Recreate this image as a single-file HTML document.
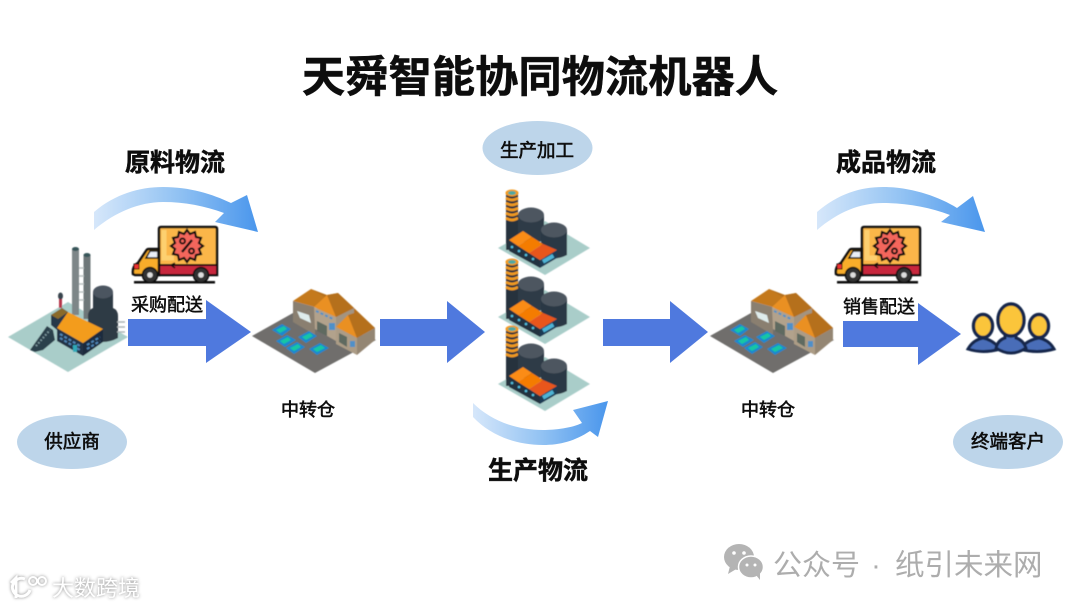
<!DOCTYPE html>
<html><head><meta charset="utf-8"><style>
html,body{margin:0;padding:0;background:#fff;width:1080px;height:608px;overflow:hidden}
svg{display:block}
text{font-family:"Liberation Sans","Noto Sans CJK SC",sans-serif}
</style></head><body>
<svg width="1080" height="608" viewBox="0 0 1080 608" xmlns="http://www.w3.org/2000/svg">
<defs>
<linearGradient id="g1" x1="0" y1="0" x2="1" y2="0"><stop offset="0" stop-color="#d6e7fa"/><stop offset="0.5" stop-color="#93c3f3"/><stop offset="1" stop-color="#4a96ec"/></linearGradient>
<filter id="b" x="-5%" y="-5%" width="110%" height="110%"><feGaussianBlur stdDeviation="0.5"/></filter>
<filter id="t" x="-5%" y="-20%" width="110%" height="140%"><feGaussianBlur stdDeviation="0.35"/></filter>
<g id="truck">
<rect x="134" y="281" width="81" height="2.500" fill="#111"/>
<path d="M159 229 Q159 227 161 227 H215 Q217 227 217 229 V275 H159 Z" fill="#fbb64a" stroke="#111" stroke-width="2.500"/>
<path d="M160 265 H216 V274 H160 Z" fill="#c8283c"/>
<path d="M160 265 H216" stroke="#111" stroke-width="2"/>
<path d="M164 230 V258 H174" stroke="#fdd06f" stroke-width="5" fill="none"/>
<path d="M133 274 Q132 266 138 263 L146 251 Q147 249 149 249 H159 V275 H135 Z" fill="#f9ad2c" stroke="#111" stroke-width="2.500"/>
<path d="M146 258 L150 251 H158 V258 Z" fill="#e9eef6" stroke="#111" stroke-width="1.600"/>
<rect x="134" y="264" width="5" height="5" fill="#e33" stroke="#111" stroke-width="1"/>
<polygon points="187,230 190,234 195,232 196,237 201,238 199,243 203,246 199,249 201,254 196,255 195,260 190,258 187,262 184,258 179,260 178,255 173,254 175,249 171,246 175,243 173,238 178,237 179,232 184,234" fill="#f4665c" stroke="#111" stroke-width="2.200"/>
<path d="M182 252 L192 240" stroke="#111" stroke-width="2.500"/>
<circle cx="182.500" cy="241" r="2.500" fill="none" stroke="#111" stroke-width="2"/>
<circle cx="191.500" cy="251" r="2.500" fill="none" stroke="#111" stroke-width="2"/>
<path d="M175 263 L171 265 L175 268" stroke="#111" stroke-width="1.500" fill="none"/>
<circle cx="150" cy="275" r="7.500" fill="#333" stroke="#111" stroke-width="1.500"/><circle cx="150" cy="275" r="2.800" fill="#ddd"/>
<circle cx="201" cy="275" r="7.500" fill="#333" stroke="#111" stroke-width="1.500"/><circle cx="201" cy="275" r="2.800" fill="#ddd"/>
</g>
<g id="wh">
<polygon points="252,336 293,313 300,313 376,340 315,373" fill="#6f6e6c"/>
<polygon points="293,301 315,307 315,335 293,322" fill="#8a7f70"/>
<polygon points="293,301 293,314 252,336 293,316" fill="#6f6e6c"/>
<polygon points="297,311 309,315 311,323 300,318" fill="#dfeceb"/>
<polygon points="311,289 327,295 338,293 354,308 375,328 357,338 315,307" fill="#b5701e"/>
<polygon points="293,301 311,289 325,297 315,307" fill="#c4791f"/>
<polygon points="314,307 336,317 336,341 315,329" fill="#b2a28c"/>
<polygon points="317,321 327,326 327,336 317,331" fill="#5f6a60"/>
<polygon points="336,317 354,308 354,330 336,341" fill="#a39480"/>
<polygon points="327,295 338,293 354,308 336,317" fill="#b5701e"/>
<polygon points="314,307 327,295 336,317" fill="#ea9024"/>
<polygon points="336,327 348,315 357,312 375,328 357,338" fill="#b5701e"/>
<polygon points="336,327 348,315 357,338" fill="#ea9024"/>
<polygon points="336,327 357,338 357,355 336,344" fill="#ac9c86"/>
<polygon points="357,338 375,328 375,340 357,355" fill="#948673"/>
<polygon points="339,333 347,337 347,347 339,342" fill="#5f6a60"/>
<rect x="350" y="341" width="5" height="6" fill="#4f90c8"/>
<rect x="329" y="323" width="6" height="7" fill="#4f90c8"/>
<path d="M316 311 L333 319" stroke="#4f90c8" stroke-width="2" stroke-dasharray="3 2"/>
<polygon points="272,330 282,324 291,329 282,336" fill="#1d87cf"/><polygon points="276,330 284,326 287,329 280,333" fill="#17c6a4"/>
<polygon points="276,341 287,335 296,340 285,347" fill="#1d87cf"/><polygon points="280,341 288,337 291,340 284,344" fill="#17c6a4"/>
<polygon points="298,337 309,331 317,336 306,343" fill="#1d87cf"/><polygon points="302,337 310,333 313,336 306,340" fill="#17c6a4"/>
<polygon points="286,348 297,342 305,347 294,354" fill="#1d87cf"/><polygon points="290,348 298,344 301,347 294,351" fill="#17c6a4"/>
<polygon points="309,349 320,343 329,348 317,355" fill="#1d87cf"/><polygon points="313,349 321,345 325,348 317,352" fill="#17c6a4"/>
</g>
<g id="plant">
<polygon points="498,248 545,221 590,248 545,275" fill="#a9cdc9"/>
<rect x="506" y="194" width="12" height="56" fill="#26303c"/>
<path d="M506 198 Q512 202 518 198 M506 203 Q512 207 518 203 M506 208 Q512 212 518 208 M506 213 Q512 217 518 213 M506 218 Q512 222 518 218" stroke="#f09a20" stroke-width="2.600" fill="none"/>
<ellipse cx="512" cy="193" rx="6.500" ry="3.500" fill="#f39a1f"/><ellipse cx="512" cy="193" rx="4" ry="2" fill="#4fa8a0"/>
<path d="M518 215 V240 Q531 246 544 240 V215 Z" fill="#2e3a47"/>
<ellipse cx="531" cy="215" rx="13" ry="7.500" fill="#4e5761"/>
<path d="M541 230 V255 Q554 262 567 255 V230 Z" fill="#2a3744"/>
<ellipse cx="554" cy="230" rx="13" ry="7.500" fill="#4e5761"/>
<polygon points="509,240 540,260 540,268 509,251" fill="#233041"/>
<polygon points="540,260 557,250 557,258 540,268" fill="#1b3a55"/>
<polygon points="509,240 523,231 532,237 518,246" fill="#fb8c12"/>
<polygon points="518,246 532,237 543,244 529,253" fill="#f47c06"/>
<polygon points="529,253 543,244 557,250 540,260" fill="#e8571a"/>
<rect x="542" y="260" width="12" height="4" fill="#4fb3d4" transform="rotate(-30 542 260)"/>
<circle cx="512" cy="247" r="1.300" fill="#55c0e0"/><circle cx="519" cy="251" r="1.300" fill="#55c0e0"/><circle cx="526" cy="255" r="1.300" fill="#55c0e0"/><circle cx="533" cy="259" r="1.300" fill="#55c0e0"/>
</g>
</defs>

<!-- curved arrows -->
<path d="M94 212 C115 194 140 187 163 187 C190 187 212 194 231 203 L247 195 L258 232 L215 222 L224 213 C205 206 185 202 163 202 C140 202 115 212 94 230 Z" fill="url(#g1)"/>
<path d="M817 212 C838 194 860 187 883 187 C910 187 938 196 957 208 L973 196 L985 232 L941 222 L950 215 C930 207 905 203 883 203 C860 203 838 212 817 230 Z" fill="url(#g1)"/>
<path d="M473 403 C490 420 515 430 543 430 C555 430 572 428 582 423 L573 410 L608 401 L598 437 L590 431 C575 441 560 445 543 445 C515 445 490 435 473 417 Z" fill="url(#g1)"/>

<!-- ellipses -->
<ellipse cx="537.500" cy="148" rx="55" ry="27" fill="#bdd5ea"/>
<ellipse cx="72" cy="442" rx="55" ry="27" fill="#bdd5ea"/>
<ellipse cx="1008" cy="442" rx="55" ry="27" fill="#bdd5ea"/>

<!-- straight arrows -->
<polygon points="128,319 206,319 206,300 251,332 206,363 206,346 128,346" fill="#4f79de"/>
<polygon points="380,319 447,319 447,301 485,332 447,363 447,346 380,346" fill="#4f79de"/>
<polygon points="603,319 670,319 670,301 708,332 670,363 670,346 603,346" fill="#4f79de"/>
<polygon points="843,321 918,321 918,303 961,334 918,365 918,347 843,347" fill="#4f79de"/>
<rect x="130" y="295" width="76" height="23" fill="#fff"/>
<rect x="842" y="297" width="76" height="23" fill="#fff"/>

<g filter="url(#t)" fill="#0a0a0a" text-anchor="middle">
<text x="540" y="92" font-size="43.300" font-weight="700" stroke="#0a0a0a" stroke-width=".5">天舜智能协同物流机器人</text>
<text x="175" y="171" font-size="25" font-weight="700" stroke="#0a0a0a" stroke-width=".5">原料物流</text>
<text x="886" y="171" font-size="25" font-weight="700" stroke="#0a0a0a" stroke-width=".5">成品物流</text>
<text x="538" y="479" font-size="25" font-weight="700" stroke="#0a0a0a" stroke-width=".5">生产物流</text>
<text x="537" y="157" font-size="18.500" stroke="#111" stroke-width=".6">生产加工</text>
<text x="72" y="448" font-size="18.500" stroke="#111" stroke-width=".6">供应商</text>
<text x="1008" y="448" font-size="18.500" stroke="#111" stroke-width=".6">终端客户</text>
<text x="308" y="416" font-size="18" stroke="#111" stroke-width=".6">中转仓</text>
<text x="768" y="416" font-size="18" stroke="#111" stroke-width=".6">中转仓</text>
<text x="167" y="311" font-size="18" stroke="#111" stroke-width=".5">采购配送</text>
<text x="879" y="313" font-size="18" stroke="#111" stroke-width=".5">销售配送</text>
</g>

<g filter="url(#b)">
<!-- supplier factory -->
<polygon points="8,337 68,302 128,337 68,372" fill="#a9cdc9"/>
<rect x="72" y="249" width="7" height="66" fill="#7d8688"/><ellipse cx="75.500" cy="249" rx="3.500" ry="2" fill="#38565a"/>
<rect x="83.500" y="255" width="7" height="64" fill="#6e7779"/><ellipse cx="87" cy="255" rx="3.500" ry="2" fill="#38565a"/>
<path d="M79 268 H84 M79 276 H84 M79 284 H84 M79 292 H84 M79 300 H84" stroke="#b9c2c2" stroke-width="1.500"/>
<path d="M88 316 Q88 310 93 308 V292 H113 V308 Q118 310 118 316 V338 Q103 346 88 338 Z" fill="#2f3a44"/>
<ellipse cx="103" cy="292" rx="10" ry="6.500" fill="#4b5560"/>
<path d="M117 322 H125 M117 327 H125 M117 332 H125" stroke="#aab4b6" stroke-width="1.500"/>
<rect x="59" y="296" width="3" height="12" fill="#b5344a"/><ellipse cx="60.500" cy="296" rx="2.500" ry="3.500" fill="#38444e"/>
<polygon points="51,315 62,308 68,312 68,325 57,330 51,325" fill="#27374a"/>
<polygon points="51,315 62,308 68,312 58,319" fill="#8a6a2a"/>
<polygon points="30,350 47,326 53,330 55,340 43,350 35,352" fill="#2c3f4b"/>
<path d="M36 346 L50 330" stroke="#7f9ba0" stroke-width="2" stroke-dasharray="1.500 2"/>
<polygon points="57,328 83,343 83,356 57,341" fill="#223145"/>
<polygon points="83,343 103,329 103,342 83,356" fill="#1c2c3e"/>
<polygon points="68,312 103,329 83,343 57,328" fill="#f39c1a"/>
<path d="M60 334 L80 346 M60 338 L80 350" stroke="#4f86b8" stroke-width="2" stroke-dasharray="3 2"/>
<path d="M87 345 L100 337 M87 349 L100 341" stroke="#4f86b8" stroke-width="2" stroke-dasharray="3 2"/>
<rect x="73" y="345" width="4" height="7" fill="#2ea9b8"/>
<use href="#wh"/>
<use href="#wh" x="458"/>
<use href="#plant"/>
<use href="#plant" y="69"/>
<use href="#plant" y="136"/>
<use href="#truck"/>
<use href="#truck" x="703"/>
<!-- customers -->
<path d="M968 349 Q973 340 983 338 Q993 340 1000 349 Q983 354 968 349 Z" fill="#4a6db8" stroke="#12284c" stroke-width="3"/>
<path d="M1020 349 Q1027 340 1039 338 Q1049 340 1054 349 Q1037 354 1020 349 Z" fill="#4a6db8" stroke="#12284c" stroke-width="3"/>
<path d="M996 348 Q998 340 1005 338 V334 H1016 V338 Q1023 340 1026 348 Q1011 358 996 348 Z" fill="#4a6db8" stroke="#12284c" stroke-width="3"/>
<ellipse cx="983" cy="326" rx="9.500" ry="11.500" fill="#fbc53a" stroke="#12284c" stroke-width="3.400"/>
<ellipse cx="1039" cy="326" rx="9.500" ry="11.500" fill="#fbc53a" stroke="#12284c" stroke-width="3.400"/>
<ellipse cx="1011" cy="320" rx="13" ry="16" fill="#fbc53a" stroke="#12284c" stroke-width="3.400"/>
</g>

<!-- watermarks -->
<g fill="#b4b4b4">
<ellipse cx="739" cy="557" rx="15" ry="13"/><polygon points="730,566 728,574 738,568"/>
<ellipse cx="751" cy="567" rx="12.500" ry="11" stroke="#fff" stroke-width="1.500"/><polygon points="756,575 760,580 760,572"/>
</g>
<circle cx="734" cy="553" r="1.800" fill="#fff"/><circle cx="744" cy="553" r="1.800" fill="#fff"/>
<circle cx="747" cy="565" r="1.500" fill="#fff"/><circle cx="755" cy="565" r="1.500" fill="#fff"/>
<text x="773" y="575" font-size="29" fill="#adadad">公众号</text>
<text x="876" y="575" font-size="29" fill="#adadad" text-anchor="middle">·</text>
<text x="895" y="575" font-size="29.500" fill="#adadad">纸引未来网</text>
<g style="filter:drop-shadow(0 0 1.500px #8a8a8a)" fill="#fff">
<text x="52" y="596" font-size="22" fill="#fff">大数跨境</text>
<path d="M11 583 L16 578 V598" stroke="#fff" stroke-width="3" fill="none"/>
<path d="M30 590 A9 9 0 1 1 25 579" stroke="#fff" stroke-width="3" fill="none"/>
<circle cx="33" cy="581" r="4" fill="none" stroke="#fff" stroke-width="2"/>
<circle cx="42" cy="581" r="4" fill="none" stroke="#fff" stroke-width="2"/>
</g>
</svg>
</body></html>
